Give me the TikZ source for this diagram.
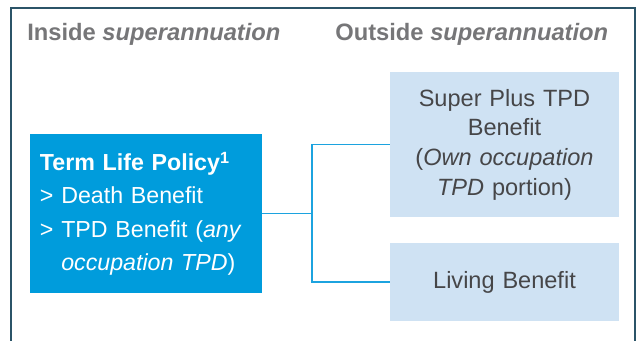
\documentclass[tikz,border=0pt]{standalone}
\usepackage{fontspec}
\setmainfont{Liberation Sans}
\definecolor{framecol}{RGB}{43,84,104}
\definecolor{headcol}{RGB}{118,118,120}
\definecolor{policyblue}{RGB}{0,156,220}
\definecolor{paleblue}{RGB}{207,226,243}
\definecolor{linkblue}{RGB}{28,163,223}
\definecolor{textgrey}{RGB}{70,70,72}
\begin{document}
\begin{tikzpicture}[
  head/.style={anchor=base west,inner sep=0pt,text=headcol,font=\bfseries\fontsize{13.5}{16}\selectfont},
  pale/.style={fill=paleblue,text=textgrey,minimum width=4.58cm,text width=4.2cm,align=center,inner sep=0pt,font=\fontsize{13.4}{16.9}\selectfont},
  link/.style={draw=linkblue,line width=1.1pt}]
\useasboundingbox (0,0) rectangle (12.78,6.8);
\draw[framecol,line width=1pt] (0.22,-0.2)--(0.22,6.64)--(12.70,6.64)--(12.70,-0.2);
\node[head] (inside) at (0.54,6.0) {Inside \textit{superannuation}};
\node[head] (outside) at (6.7,6.0) {Outside \textit{superannuation}};
\node[fill=policyblue,text=white,minimum width=4.64cm,minimum height=3.18cm,text width=4.24cm,inner xsep=0.2cm,align=left,font=\fontsize{13.2}{18.8}\selectfont] (policy) at (2.92,2.53)
  {\textbf{Term Life Policy\textsuperscript{1}}\\
   > Death Benefit\\
   > TPD Benefit (\textit{any}\\
   \phantom{>} \textit{occupation TPD})};
\node[pale,minimum height=2.9cm] (tpd) at (10.09,3.91)
  {Super Plus TPD\\Benefit\\(\textit{Own occupation}\\\textit{TPD} portion)};
\node[pale,minimum height=1.56cm] (living) at (10.09,1.16) {Living Benefit};
\coordinate (split) at (6.24,2.53);
\draw[link] (policy.east)--(split);
\draw[link] (tpd.west) -| (split) |- (living.west);
\end{tikzpicture}
\end{document}
